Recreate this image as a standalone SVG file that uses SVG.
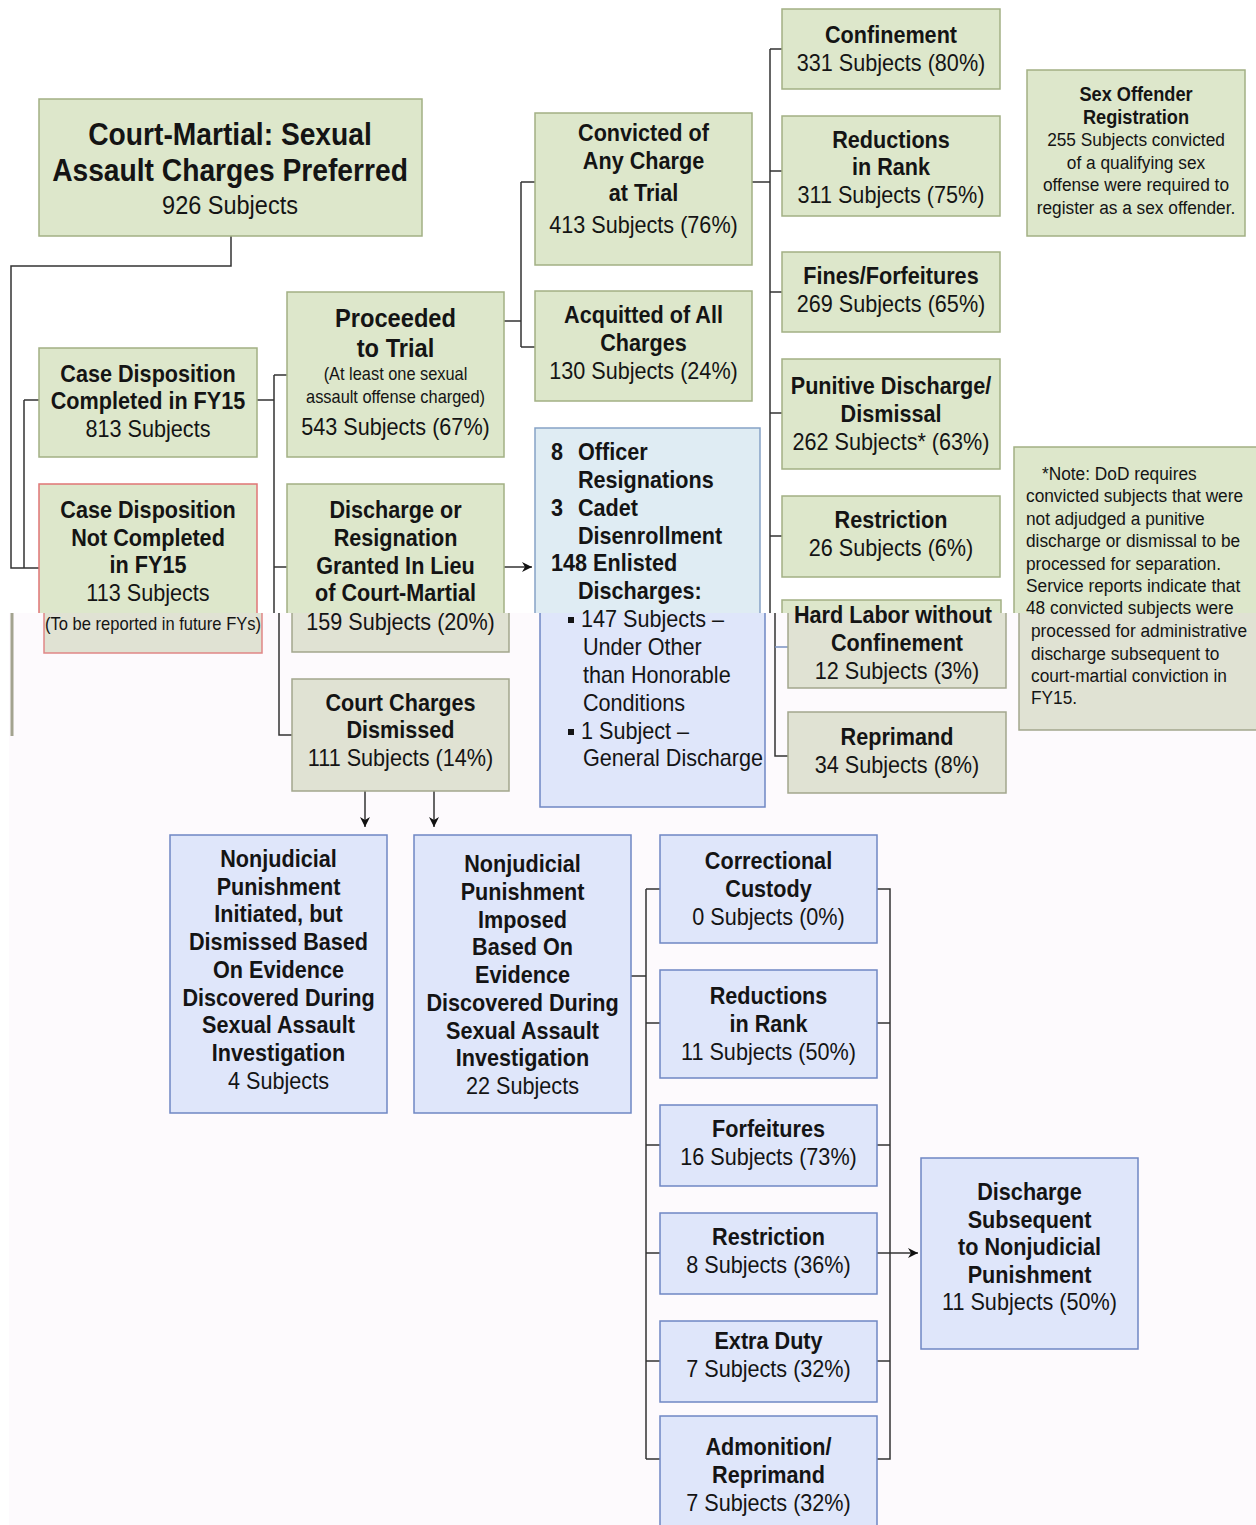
<svg xmlns="http://www.w3.org/2000/svg" width="1256" height="1525" viewBox="0 0 1256 1525">
<style>
text{font-family:"Liberation Sans",Arial,Helvetica,sans-serif;fill:#141414}
.n{font-size:23px}
.s19{font-size:19px}
.s18{font-size:18px}
.c{text-anchor:middle}
.b{font-weight:bold}
.gr{fill:#dde7cb;stroke:#a2b084;stroke-width:1.5}
.gg{fill:#e0e2d3;stroke:#a3a68d;stroke-width:1.5}
.bl{fill:#dfe6fa;stroke:#6f87c3;stroke-width:1.5}
.bt{fill:#dfecf3;stroke:#86a2c6;stroke-width:1.5}
.rd{fill:#dde7cb;stroke:#e07676;stroke-width:1.5}
.rg{fill:#e0e2d3;stroke:#e08686;stroke-width:1.5}
.ln{fill:none;stroke:#333;stroke-width:1.5}
</style>
<defs>
<clipPath id="top"><rect x="0" y="0" width="1256" height="613"/></clipPath>
<clipPath id="bot"><rect x="0" y="613" width="1256" height="912"/></clipPath>
<marker id="ah" viewBox="0 0 10 10" refX="10" refY="5" markerWidth="10" markerHeight="10" markerUnits="userSpaceOnUse" orient="auto"><path d="M0,0 L10,5 L0,10 L3,5 Z" fill="#111"/></marker>
</defs>
<rect x="0" y="0" width="1256" height="1525" fill="#ffffff"/>
<rect x="9" y="613" width="1247" height="912" fill="#fdfafd"/>

<g id="connectors">
<g clip-path="url(#top)">
<path class="ln" d="M231,236 V266 H11 V568 H39"/>
<path class="ln" d="M24,400 V568 M24,400 H39"/>
<path class="ln" d="M257,400 H274 M274,375 V613 M274,375 H287 M274,567 H287"/>
<path class="ln" d="M504,567 H532" marker-end="url(#ah)"/>
<path class="ln" d="M504,321 H521 M521,182 V347 M521,182 H535 M521,347 H535"/>
<path class="ln" d="M752,182 H770 M770,49 V613 M770,49 H782 M770,171 H782 M770,292 H782 M770,413 H782 M770,536 H782"/>
</g>
<g clip-path="url(#bot)">
<path d="M12,613 V736" fill="none" stroke="#a3a38f" stroke-width="3"/>
<path class="ln" d="M279,613 V735 H292"/>
<path class="ln" d="M775,613 V756 H788"/>
<path d="M775,647 H788" fill="none" stroke="#7890c0" stroke-width="1.5"/>
<path class="ln" d="M365,791 V827" marker-end="url(#ah)"/>
<path class="ln" d="M434,791 V827" marker-end="url(#ah)"/>
<path class="ln" d="M631,976 H646 M646,889 V1459 M646,889 H660 M646,1023 H660 M646,1145 H660 M646,1253 H660 M646,1361 H660 M646,1459 H660"/>
<path class="ln" d="M877,889 H890 V1459 H877 M877,1023 H890 M877,1145 H890 M877,1361 H890"/>
<path class="ln" d="M877,1253 H918" marker-end="url(#ah)"/>
</g>
</g>

<g id="court-martial">
<rect class="gr" x="39" y="99" width="383" height="137"/>
<text class="c" transform="translate(230 0) scale(.91 1)"><tspan class="b" x="0" y="145" font-size="31">Court-Martial: Sexual</tspan><tspan class="b" x="0" y="181" font-size="31">Assault Charges Preferred</tspan></text>
<text class="c" transform="translate(230 0) scale(.94 1)"><tspan x="0" y="214" font-size="25">926 Subjects</tspan></text>
</g>

<g id="completed">
<rect class="gr" x="39" y="348" width="218" height="109"/>
<text class="c n" transform="translate(148 0) scale(.94 1)"><tspan class="b" x="0" y="382">Case Disposition</tspan><tspan class="b" x="0" y="409">Completed in FY15</tspan><tspan x="0" y="437">813 Subjects</tspan></text>
</g>

<g id="not-completed">
<rect class="rd" x="39" y="484" width="218" height="169" clip-path="url(#top)"/>
<rect class="rg" x="44" y="484" width="218" height="169" clip-path="url(#bot)"/>
<text class="c n" transform="translate(148 0) scale(.94 1)"><tspan class="b" x="0" y="518">Case Disposition</tspan><tspan class="b" x="0" y="546">Not Completed</tspan><tspan class="b" x="0" y="573">in FY15</tspan><tspan x="0" y="601">113 Subjects</tspan></text>
<text class="c s18" transform="translate(153 0) scale(.92 1)"><tspan x="0" y="630">(To be reported in future FYs)</tspan></text>
</g>

<g id="proceeded">
<rect class="gr" x="287" y="292" width="217" height="165"/>
<text class="c" transform="translate(395.5 0) scale(.91 1)"><tspan class="b" x="0" y="327" font-size="26">Proceeded</tspan><tspan class="b" x="0" y="357" font-size="26">to Trial</tspan><tspan x="0" y="380" font-size="18">(At least one sexual</tspan><tspan x="0" y="403" font-size="18">assault offense charged)</tspan></text>
<text class="c n" transform="translate(395.5 0) scale(.94 1)"><tspan x="0" y="435">543 Subjects (67%)</tspan></text>
</g>

<g id="discharge-in-lieu">
<rect class="gr" x="287" y="484" width="217" height="168" clip-path="url(#top)"/>
<rect class="gg" x="292" y="484" width="217" height="168" clip-path="url(#bot)"/>
<text class="c n" transform="translate(395.5 0) scale(.94 1)"><tspan class="b" x="0" y="518">Discharge or</tspan><tspan class="b" x="0" y="546">Resignation</tspan><tspan class="b" x="0" y="574">Granted In Lieu</tspan><tspan class="b" x="0" y="601">of Court-Martial</tspan></text>
<text class="c n" transform="translate(400.5 0) scale(.94 1)"><tspan x="0" y="630">159 Subjects (20%)</tspan></text>
</g>

<g id="charges-dismissed">
<rect class="gg" x="292" y="679" width="217" height="112"/>
<text class="c n" transform="translate(400.5 0) scale(.94 1)"><tspan class="b" x="0" y="711">Court Charges</tspan><tspan class="b" x="0" y="738">Dismissed</tspan><tspan x="0" y="766">111 Subjects (14%)</tspan></text>
</g>

<g id="convicted">
<rect class="gr" x="535" y="113" width="217" height="152"/>
<text class="c n" transform="translate(643.5 0) scale(.94 1)"><tspan class="b" x="0" y="141">Convicted of</tspan><tspan class="b" x="0" y="169">Any Charge</tspan><tspan class="b" x="0" y="201">at Trial</tspan><tspan x="0" y="233">413 Subjects (76%)</tspan></text>
</g>

<g id="acquitted">
<rect class="gr" x="535" y="291" width="217" height="110"/>
<text class="c n" transform="translate(643.5 0) scale(.94 1)"><tspan class="b" x="0" y="323">Acquitted of All</tspan><tspan class="b" x="0" y="351">Charges</tspan><tspan x="0" y="379">130 Subjects (24%)</tspan></text>
</g>

<g id="officer-enlisted">
<rect class="bt" x="535" y="428" width="225" height="379" clip-path="url(#top)"/>
<rect class="bl" x="540" y="428" width="225" height="379" clip-path="url(#bot)"/>
<text class="b n" transform="translate(551 0) scale(.94 1)"><tspan x="0" y="460">8</tspan><tspan x="28.7" y="460">Officer</tspan><tspan x="28.7" y="488">Resignations</tspan><tspan x="0" y="516">3</tspan><tspan x="28.7" y="516">Cadet</tspan><tspan x="28.7" y="544">Disenrollment</tspan><tspan x="0" y="571">148 Enlisted</tspan><tspan x="28.7" y="599">Discharges:</tspan></text>
<rect x="568" y="617" width="6" height="6" fill="#141414"/>
<rect x="568" y="729" width="6" height="6" fill="#141414"/>
<text class="n" transform="translate(581 0) scale(.94 1)"><tspan x="0" y="627">147 Subjects –</tspan><tspan x="2" y="655">Under Other</tspan><tspan x="2" y="683">than Honorable</tspan><tspan x="2" y="711">Conditions</tspan><tspan x="0" y="739">1 Subject –</tspan><tspan x="2" y="766">General Discharge</tspan></text>
</g>

<g id="confinement">
<rect class="gr" x="782" y="9" width="218" height="80"/>
<text class="c n" transform="translate(891 0) scale(.94 1)"><tspan class="b" x="0" y="43">Confinement</tspan><tspan x="0" y="71">331 Subjects (80%)</tspan></text>
</g>

<g id="reductions">
<rect class="gr" x="782" y="116" width="218" height="100"/>
<text class="c n" transform="translate(891 0) scale(.94 1)"><tspan class="b" x="0" y="148">Reductions</tspan><tspan class="b" x="0" y="175">in Rank</tspan><tspan x="0" y="203">311 Subjects (75%)</tspan></text>
</g>

<g id="fines">
<rect class="gr" x="782" y="252" width="218" height="80"/>
<text class="c n" transform="translate(891 0) scale(.94 1)"><tspan class="b" x="0" y="284">Fines/Forfeitures</tspan><tspan x="0" y="312">269 Subjects (65%)</tspan></text>
</g>

<g id="punitive">
<rect class="gr" x="782" y="359" width="218" height="110"/>
<text class="c n" transform="translate(891 0) scale(.94 1)"><tspan class="b" x="0" y="394">Punitive Discharge/</tspan><tspan class="b" x="0" y="422">Dismissal</tspan><tspan x="0" y="450">262 Subjects* (63%)</tspan></text>
</g>

<g id="restriction">
<rect class="gr" x="782" y="496" width="218" height="81"/>
<text class="c n" transform="translate(891 0) scale(.94 1)"><tspan class="b" x="0" y="528">Restriction</tspan><tspan x="0" y="556">26 Subjects (6%)</tspan></text>
</g>

<g id="hard-labor">
<rect class="gr" x="782" y="600" width="219" height="88" clip-path="url(#top)"/>
<rect class="gg" x="788" y="600" width="218" height="88" clip-path="url(#bot)"/>
<text class="c n" transform="translate(893 0) scale(.94 1)"><tspan class="b" x="0" y="623">Hard Labor without</tspan></text>
<text class="c n" transform="translate(897 0) scale(.94 1)"><tspan class="b" x="0" y="651">Confinement</tspan><tspan x="0" y="679">12 Subjects (3%)</tspan></text>
</g>

<g id="reprimand">
<rect class="gg" x="788" y="712" width="218" height="81"/>
<text class="c n" transform="translate(897 0) scale(.94 1)"><tspan class="b" x="0" y="745">Reprimand</tspan><tspan x="0" y="773">34 Subjects (8%)</tspan></text>
</g>

<g id="sex-offender">
<rect class="gr" x="1027" y="70" width="218" height="166"/>
<text class="c s19" transform="translate(1136 0) scale(.91 1)"><tspan class="b" x="0" y="101" font-size="20">Sex Offender</tspan><tspan class="b" x="0" y="124" font-size="20">Registration</tspan><tspan x="0" y="146">255 Subjects convicted</tspan><tspan x="0" y="169">of a qualifying sex</tspan><tspan x="0" y="191">offense were required to</tspan><tspan x="0" y="214">register as a sex offender.</tspan></text>
</g>

<g id="note">
<rect class="gr" x="1014" y="447" width="250" height="283" clip-path="url(#top)"/>
<rect class="gg" x="1019" y="447" width="250" height="283" clip-path="url(#bot)"/>
<text class="s19" transform="translate(1026 0) scale(.91 1)"><tspan x="17.6" y="480">*Note: DoD requires</tspan><tspan x="0" y="502">convicted subjects that were</tspan><tspan x="0" y="525">not adjudged a punitive</tspan><tspan x="0" y="547">discharge or dismissal to be</tspan><tspan x="0" y="570">processed for separation.</tspan><tspan x="0" y="592">Service reports indicate that</tspan><tspan x="0" y="614">48 convicted subjects were</tspan></text>
<text class="s19" transform="translate(1031 0) scale(.91 1)"><tspan x="0" y="637">processed for administrative</tspan><tspan x="0" y="660">discharge subsequent to</tspan><tspan x="0" y="682">court-martial conviction in</tspan><tspan x="0" y="704">FY15.</tspan></text>
</g>

<g id="njp-initiated">
<rect class="bl" x="170" y="835" width="217" height="278"/>
<text class="c n" transform="translate(278.5 0) scale(.94 1)"><tspan class="b" x="0" y="867">Nonjudicial</tspan><tspan class="b" x="0" y="895">Punishment</tspan><tspan class="b" x="0" y="922">Initiated, but</tspan><tspan class="b" x="0" y="950">Dismissed Based</tspan><tspan class="b" x="0" y="978">On Evidence</tspan><tspan class="b" x="0" y="1006">Discovered During</tspan><tspan class="b" x="0" y="1033">Sexual Assault</tspan><tspan class="b" x="0" y="1061">Investigation</tspan><tspan x="0" y="1089">4 Subjects</tspan></text>
</g>

<g id="njp-imposed">
<rect class="bl" x="414" y="835" width="217" height="278"/>
<text class="c n" transform="translate(522.5 0) scale(.94 1)"><tspan class="b" x="0" y="872">Nonjudicial</tspan><tspan class="b" x="0" y="900">Punishment</tspan><tspan class="b" x="0" y="928">Imposed</tspan><tspan class="b" x="0" y="955">Based On</tspan><tspan class="b" x="0" y="983">Evidence</tspan><tspan class="b" x="0" y="1011">Discovered During</tspan><tspan class="b" x="0" y="1039">Sexual Assault</tspan><tspan class="b" x="0" y="1066">Investigation</tspan><tspan x="0" y="1094">22 Subjects</tspan></text>
</g>

<g id="correctional">
<rect class="bl" x="660" y="835" width="217" height="108"/>
<text class="c n" transform="translate(768.5 0) scale(.94 1)"><tspan class="b" x="0" y="869">Correctional</tspan><tspan class="b" x="0" y="897">Custody</tspan><tspan x="0" y="925">0 Subjects (0%)</tspan></text>
</g>

<g id="njp-reductions">
<rect class="bl" x="660" y="970" width="217" height="108"/>
<text class="c n" transform="translate(768.5 0) scale(.94 1)"><tspan class="b" x="0" y="1004">Reductions</tspan><tspan class="b" x="0" y="1032">in Rank</tspan><tspan x="0" y="1060">11 Subjects (50%)</tspan></text>
</g>

<g id="forfeitures">
<rect class="bl" x="660" y="1105" width="217" height="81"/>
<text class="c n" transform="translate(768.5 0) scale(.94 1)"><tspan class="b" x="0" y="1137">Forfeitures</tspan><tspan x="0" y="1165">16 Subjects (73%)</tspan></text>
</g>

<g id="njp-restriction">
<rect class="bl" x="660" y="1213" width="217" height="81"/>
<text class="c n" transform="translate(768.5 0) scale(.94 1)"><tspan class="b" x="0" y="1245">Restriction</tspan><tspan x="0" y="1273">8 Subjects (36%)</tspan></text>
</g>

<g id="extra-duty">
<rect class="bl" x="660" y="1321" width="217" height="81"/>
<text class="c n" transform="translate(768.5 0) scale(.94 1)"><tspan class="b" x="0" y="1349">Extra Duty</tspan><tspan x="0" y="1377">7 Subjects (32%)</tspan></text>
</g>

<g id="admonition">
<rect class="bl" x="660" y="1416" width="217" height="120"/>
<text class="c n" transform="translate(768.5 0) scale(.94 1)"><tspan class="b" x="0" y="1455">Admonition/</tspan><tspan class="b" x="0" y="1483">Reprimand</tspan><tspan x="0" y="1511">7 Subjects (32%)</tspan></text>
</g>

<g id="discharge-njp">
<rect class="bl" x="921" y="1158" width="217" height="191"/>
<text class="c n" transform="translate(1029.5 0) scale(.94 1)"><tspan class="b" x="0" y="1200">Discharge</tspan><tspan class="b" x="0" y="1228">Subsequent</tspan><tspan class="b" x="0" y="1255">to Nonjudicial</tspan><tspan class="b" x="0" y="1283">Punishment</tspan><tspan x="0" y="1310">11 Subjects (50%)</tspan></text>
</g>
</svg>
